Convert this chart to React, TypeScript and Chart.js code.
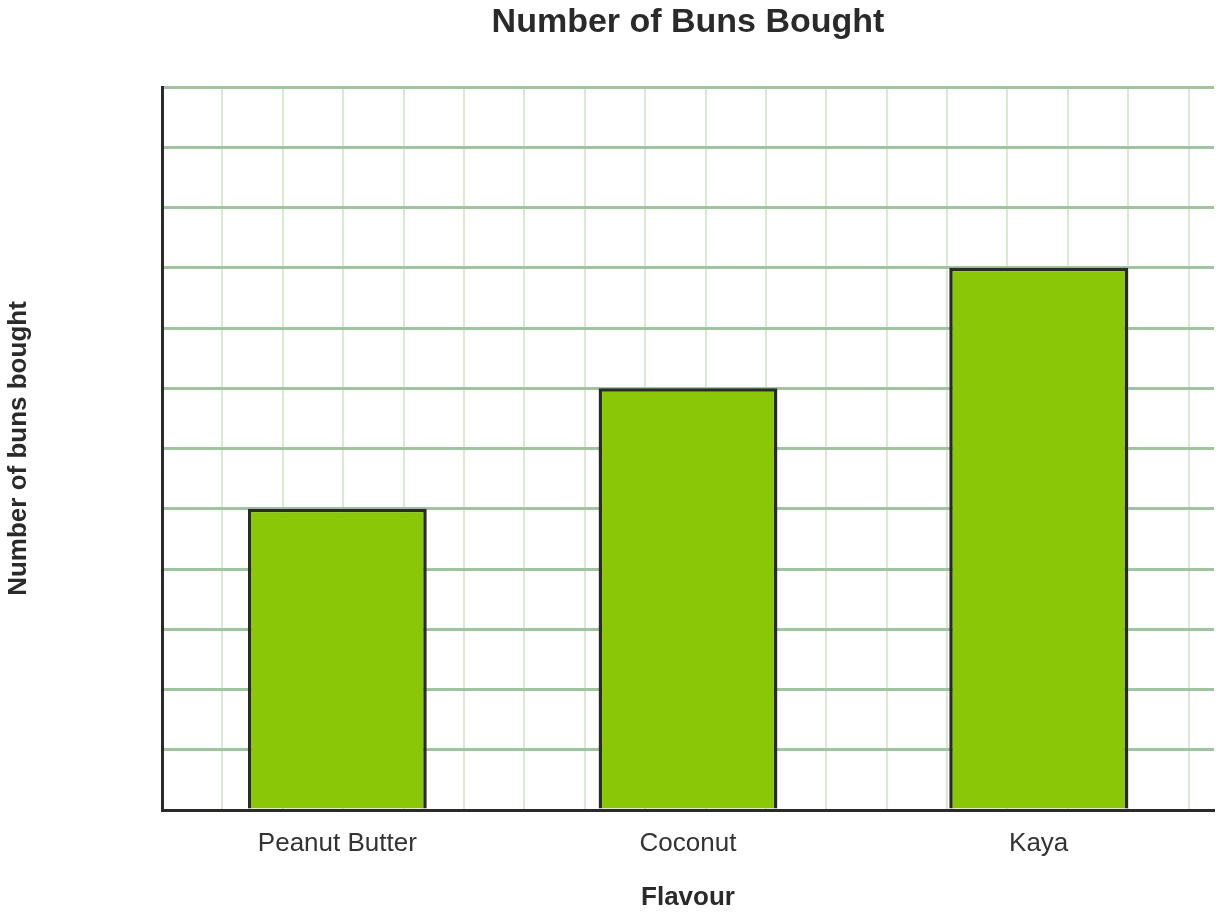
import React, { useEffect, useRef } from "react";
import { Chart, registerables } from "chart.js";

Chart.register(...registerables);

const categories = ["Peanut Butter", "Coconut", "Kaya"];
const bunsBought = [5, 7, 9];
const yMin = 0;
const yMax = 12;
const yStep = 1;
const gridColumnsMax = 17.42;

const DARK = "#2a2a2a";
const FONT = "'Liberation Sans', Arial, sans-serif";

export default function App() {
  const ref = useRef<HTMLCanvasElement | null>(null);

  useEffect(() => {
    if (!ref.current) return;
    const chart = new Chart(ref.current, {
      type: "bar",
      data: {
        labels: categories,
        datasets: [
          {
            label: "Number of buns bought",
            data: bunsBought,
            backgroundColor: "#8ac807",
            borderColor: DARK,
            borderWidth: 3.5,
            borderSkipped: "bottom",
            barPercentage: 0.51,
            categoryPercentage: 1,
            xAxisID: "x",
          },
        ],
      },
      options: {
        responsive: false,
        animation: false,
        maintainAspectRatio: false,
        layout: { padding: { left: 0, right: 6, top: 0, bottom: 0 } },
        plugins: {
          legend: { display: false },
          tooltip: { enabled: false },
          title: {
            display: true,
            text: "Number of Buns Bought",
            fullSize: false,
            color: DARK,
            font: { family: FONT, size: 34, weight: "bold", lineHeight: 1.0 },
            padding: { top: 6, bottom: 47 },
          },
        },
        scales: {
          x2: {
            type: "linear",
            position: "top",
            min: 0,
            max: gridColumnsMax,
            bounds: "data",
            offset: false,
            ticks: { display: false, stepSize: 1, includeBounds: false },
            border: { display: false },
            grid: {
              offset: false,
              drawTicks: false,
              lineWidth: 2,
              color: (c: any) => (c.tick && c.tick.value === 0 ? "rgba(0,0,0,0)" : "#d9ead0"),
            },
            afterFit: (s: any) => {
              s.height = 0;
            },
          },
          x: {
            type: "category",
            position: "bottom",
            grid: { display: false, drawTicks: false },
            border: { display: true, color: DARK, width: 3, z: 2 },
            ticks: {
              color: "#333",
              padding: 18,
              font: { family: FONT, size: 26 },
            },
            title: {
              display: true,
              text: "Flavour",
              color: DARK,
              font: { family: FONT, size: 26, weight: "bold", lineHeight: 1.2 },
              padding: { top: 6, bottom: 0 },
            },
            afterFit: (s: any) => {
              s.height = 103;
            },
          },
          y: {
            type: "linear",
            min: yMin,
            max: yMax,
            ticks: { display: false, stepSize: yStep },
            grid: {
              drawTicks: false,
              lineWidth: 3,
              color: (c: any) => (c.tick && c.tick.value === 0 ? "rgba(0,0,0,0)" : "#9fc49f"),
            },
            border: { display: true, color: DARK, width: 3, z: 2 },
            title: {
              display: true,
              text: "Number of buns bought",
              color: DARK,
              font: { family: FONT, size: 26, weight: "bold", lineHeight: 1.2 },
              padding: { top: 3, bottom: 0 },
            },
            afterFit: (s: any) => {
              s.width = 162;
            },
          },
        },
      },
    });
    return () => chart.destroy();
  }, []);

  return (
    <div style={{ position: "fixed", left: 0, top: 0, width: 1220, height: 913, background: "#fff" }}>
      <canvas ref={ref} width={1220} height={913} style={{ display: "block" }} />
    </div>
  );
}
